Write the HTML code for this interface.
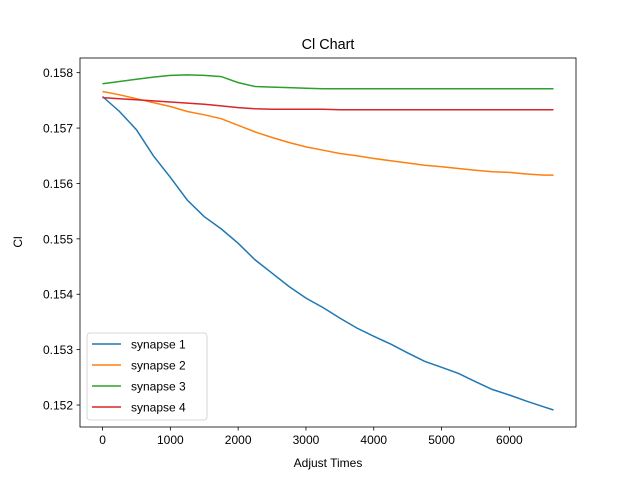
<!DOCTYPE html>
<html><head><meta charset="utf-8"><style>body{margin:0;background:#fff}svg{display:block;font-family:"Liberation Sans","DejaVu Sans",sans-serif}</style></head>
<body>
<svg id="c" width="640" height="480"></svg>
<script>
const xs = [0,250,500,750,1000,1250,1500,1750,2000,2250,2500,2750,3000,3250,3500,3750,4000,4250,4500,4750,5000,5250,5500,5750,6000,6250,6500,6650];
const syn1 = [.15757,.15730,.15697,.15650,.15611,.15570,.15540,.15518,.15492,.15462,.15438,.15414,.15393,.15376,.15357,.15339,.15324,.15310,.15294,.15279,.15268,.15257,.15242,.15228,.15218,.15207,.15197,.15191];
const syn2 = [.15766,.15760,.15753,.15746,.15739,.15730,.15724,.15717,.15705,.15693,.15683,.15674,.15666,.15660,.15654,.15650,.15645,.15641,.15637,.15633,.15630,.15627,.15624,.15621,.15620,.15617,.15615,.15615];
const syn3 = [.15780,.15784,.15788,.15792,.15795,.15796,.15795,.15793,.15782,.15775,.15774,.15773,.15772,.15771,.15771,.15771,.15771,.15771,.15771,.15771,.15771,.15771,.15771,.15771,.15771,.15771,.15771,.15771];
const syn4 = [.15755,.15753,.15751,.15749,.15747,.15745,.15743,.15740,.15737,.15735,.15734,.15734,.15734,.15734,.15733,.15733,.15733,.15733,.15733,.15733,.15733,.15733,.15733,.15733,.15733,.15733,.15733,.15733];
const xTicks = [0,1000,2000,3000,4000,5000,6000];
const yTicks = [0.152,0.153,0.154,0.155,0.156,0.157,0.158];
const names = ["synapse 1","synapse 2","synapse 3","synapse 4"];
const colors = ["#1f77b4","#ff7f0e","#2ca02c","#d62728"];

const L=80,R=576,T=58,B=427;
const xmin=-332.5,xmax=6982.5,ymin=0.151603,ymax=0.158265;
const X=v=>L+(v-xmin)/(xmax-xmin)*(R-L);
const Y=v=>B-(v-ymin)/(ymax-ymin)*(B-T);
const svg=document.getElementById('c');
const NS='http://www.w3.org/2000/svg';
function mk(t,a,p){const e=document.createElementNS(NS,t);for(const k in a)e.setAttribute(k,a[k]);(p||svg).appendChild(e);return e;}
[syn1,syn2,syn3,syn4].forEach((s,i)=>{
  const p=mk('polyline',{points:s.map((v,j)=>X(xs[j]).toFixed(1)+','+Y(v).toFixed(1)).join(' '),fill:'none',stroke:colors[i],'stroke-width':1.5});
  
  
});
const fr=mk('rect',{x:L,y:T,width:R-L,height:B-T,fill:'none',stroke:'#000','stroke-width':0.8});


xTicks.forEach(v=>{
  mk('line',{x1:X(v),x2:X(v),y1:B,y2:B+3.5,stroke:'#000','stroke-width':0.8});
  const t=mk('text',{x:X(v),y:B+17,'text-anchor':'middle','font-size':12});t.textContent=v;
  
  
});
yTicks.forEach(v=>{
  mk('line',{x1:L-3.5,x2:L,y1:Y(v),y2:Y(v),stroke:'#000','stroke-width':0.8});
  const t=mk('text',{x:L-7,y:Y(v)+4.5,'text-anchor':'end','font-size':12});t.textContent=v.toFixed(3);
  
  
});
const ti=mk('text',{x:328,y:49,'text-anchor':'middle','font-size':14.4});ti.textContent='Cl Chart';


const xl=mk('text',{x:328,y:467,'text-anchor':'middle','font-size':12});xl.textContent='Adjust Times';


const yl=mk('text',{x:22,y:242,'text-anchor':'middle','font-size':12,transform:'rotate(-90 22 242)'});yl.textContent='Cl';


const lg=mk('g',{});


mk('rect',{x:87,y:333,width:120,height:87,rx:3,fill:'#fff','fill-opacity':0.8,stroke:'#ccc','stroke-width':0.8},lg);
names.forEach((n,i)=>{
  const y=344+i*21;
  const g=mk('g',{},lg);
  
  
  mk('line',{x1:92,x2:121,y1:y,y2:y,stroke:colors[i],'stroke-width':1.5},g);
  const t=mk('text',{x:131,y:y+4.5,'font-size':12},g);t.textContent=n;
});
</script>
</body></html>
